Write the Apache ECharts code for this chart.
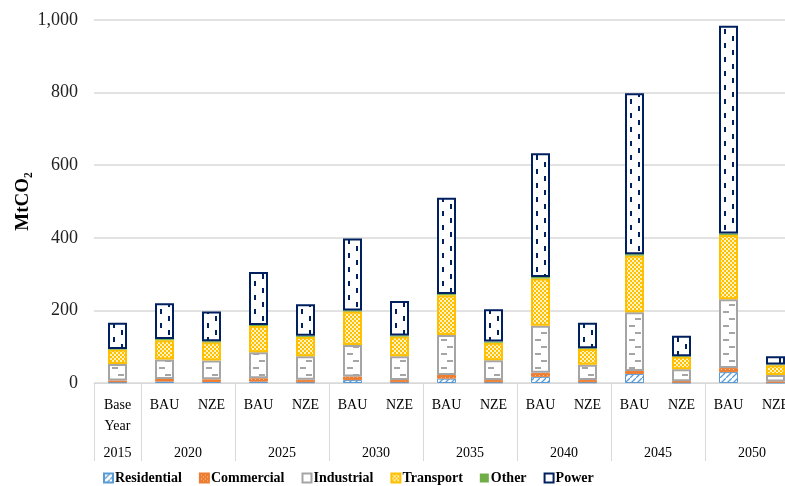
<!DOCTYPE html>
<html>
<head>
<meta charset="utf-8">
<script src="https://cdn.jsdelivr.net/npm/echarts@6/dist/echarts.min.js"></script>
<style>
  html, body { margin: 0; padding: 0; background: #fff; }
  #chart { width: 785px; height: 486px; }
</style>
</head>
<body>
<div id="chart"></div>
<script>
// categories along the axis (scenario row) and the year row underneath
const categories = ['Base\nYear', 'BAU', 'NZE', 'BAU', 'NZE', 'BAU', 'NZE', 'BAU', 'NZE', 'BAU', 'NZE', 'BAU', 'NZE', 'BAU', 'NZE'];
const years = ['2015', '2020', '2025', '2030', '2035', '2040', '2045', '2050'];
const yearPos = [0.5, 2, 4, 6, 8, 10, 12, 14];
const groupEdges = [0, 1, 3, 5, 7, 9, 11, 13, 15];

// MtCO2 by sector
const residential = [2, 4, 3, 4, 2, 8, 2, 12, 2, 17, 2, 25, 1, 30, 1];
const commercial  = [5, 7, 7, 9, 7, 10, 6, 10, 6, 11, 6, 8, 4, 11, 3];
const industrial  = [45, 54, 52, 72, 65, 87, 66, 110, 55, 130, 42, 162, 33, 190, 18];
const transport   = [40, 53, 50, 72, 53, 92, 54, 110, 48, 130, 44, 156, 34, 177, 27];
const other       = [2, 3, 3, 3, 3, 3, 3, 3, 3, 4, 2, 4, 2, 4, 2];
const power       = [72, 99, 82, 146, 87, 198, 95, 265, 89, 341, 70, 443, 56, 572, 23];

const yTicks = [0, 200, 400, 600, 800, 1000];

// grid is laid out so one category is exactly 47px, tiles repeat per category
const CAT = 47;
const BAR_OFF = 14; // bar left edge inside a category tile

function tile(w, h, draw) {
  const c = document.createElement('canvas');
  c.width = w; c.height = h;
  const ctx = c.getContext('2d');
  draw(ctx);
  return { image: c, repeat: 'repeat' };
}

const patResidential = tile(6, 6, function (ctx) {
  ctx.fillStyle = '#fff'; ctx.fillRect(0, 0, 6, 6);
  ctx.strokeStyle = '#5B9BD5'; ctx.lineWidth = 1.3;
  ctx.beginPath(); ctx.moveTo(-1, 7); ctx.lineTo(7, -1); ctx.stroke();
});
const patCommercial = tile(4, 4, function (ctx) {
  ctx.fillStyle = '#ED7D31'; ctx.fillRect(0, 0, 4, 4);
  ctx.fillStyle = '#fbd3b8'; ctx.fillRect(1, 1, 1, 1); ctx.fillRect(3, 3, 1, 1);
});
const patIndustrial = tile(CAT, 14, function (ctx) {
  ctx.fillStyle = '#fff'; ctx.fillRect(0, 0, CAT, 14);
  ctx.fillStyle = '#A5A5A5';
  ctx.fillRect(BAR_OFF + 4, 3, 6, 2); ctx.fillRect(BAR_OFF + 10, 10, 6, 2);
});
const patTransport = tile(4, 4, function (ctx) {
  ctx.fillStyle = '#FFC000'; ctx.fillRect(0, 0, 4, 4);
  ctx.fillStyle = '#fff2c4'; ctx.fillRect(0, 0, 2, 2); ctx.fillRect(2, 2, 2, 2);
});
const patPower = tile(CAT, 14, function (ctx) {
  ctx.fillStyle = '#fff'; ctx.fillRect(0, 0, CAT, 14);
  ctx.fillStyle = '#002060';
  ctx.fillRect(BAR_OFF + 5, 1, 2, 5); ctx.fillRect(BAR_OFF + 13, 8, 2, 5);
});

const serif = 'Liberation Serif';

function bar(name, data, fill, border, bw) {
  return {
    name: name,
    type: 'bar',
    stack: 'total',
    barWidth: 19,
    data: data,
    itemStyle: { color: fill, borderColor: border, borderWidth: bw },
    emphasis: { disabled: true }
  };
}

const option = {
  animation: false,
  backgroundColor: '#fff',
  grid: { left: 94, right: 785 - 94 - CAT * 15, top: 20, bottom: 103, outerBoundsMode: 'none' },
  legend: {
    left: 98,
    bottom: -4,
    itemWidth: 9,
    itemHeight: 9,
    itemGap: 17,
    icon: 'rect',
    textStyle: { fontFamily: serif, fontWeight: 'bold', fontSize: 14, color: '#000', padding: [0, 0, 0, -3] }
  },
  xAxis: [
    {
      type: 'category',
      data: categories,
      axisLine: { lineStyle: { color: '#D9D9D9', width: 1 } },
      axisTick: { show: false },
      axisLabel: { interval: 0, margin: 12, fontFamily: serif, fontSize: 14, color: '#000', lineHeight: 21 }
    },
    {
      type: 'value',
      position: 'bottom',
      min: 0,
      max: 15,
      axisLine: { show: false },
      splitLine: { show: false },
      axisTick: { show: true, customValues: groupEdges, length: 78, lineStyle: { color: '#D9D9D9' } },
      axisLabel: {
        customValues: yearPos,
        margin: 63,
        fontFamily: serif, fontSize: 14, color: '#000',
        formatter: function (v) { return years[yearPos.indexOf(v)]; }
      }
    }
  ],
  yAxis: {
    type: 'value',
    min: 0,
    max: 1000,
    interval: 200,
    name: 'MtCO₂',
    nameLocation: 'middle',
    nameRotate: 90,
    nameGap: 61,
    nameMoveOverlap: false,
    nameTextStyle: { fontFamily: serif, fontWeight: 'bold', fontSize: 19, color: '#000' },
    axisLine: { show: false },
    axisTick: { show: false },
    splitLine: { lineStyle: { color: '#D9D9D9', width: 1.5 } },
    axisLabel: {
      margin: 16, fontFamily: serif, fontSize: 18, color: '#222',
      formatter: function (v) { return yTicks.indexOf(v) >= 0 ? v.toLocaleString('en-US') : ''; }
    }
  },
  series: [
    bar('Residential', residential, patResidential, '#5B9BD5', 1),
    bar('Commercial', commercial, patCommercial, '#ED7D31', 1),
    bar('Industrial', industrial, patIndustrial, '#A5A5A5', 2),
    bar('Transport', transport, patTransport, '#FFC000', 2),
    bar('Other', other, '#70AD47', '#70AD47', 0),
    bar('Power', power, patPower, '#002060', 2)
  ]
};

const chart = echarts.init(document.getElementById('chart'));
chart.setOption(option);
</script>
</body>
</html>
